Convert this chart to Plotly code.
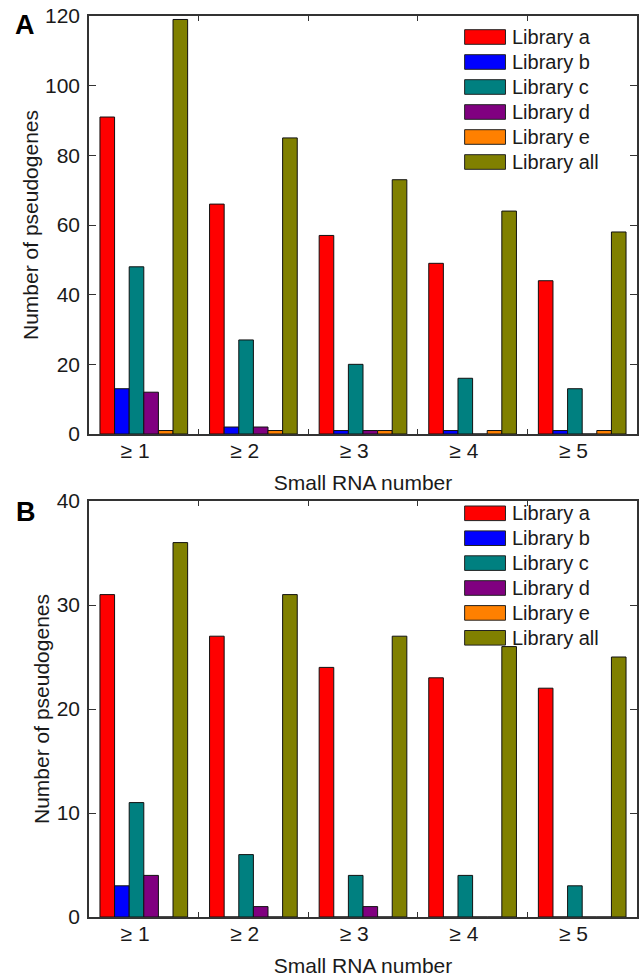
import plotly.graph_objects as go

categories = ["≥ 1", "≥ 2", "≥ 3", "≥ 4", "≥ 5"]
tick_labels = ["≥ 1", "≥ 2", "≥ 3", "≥ 4", "≥ 5"]
series_names = ["Library a", "Library b", "Library c", "Library d", "Library e", "Library all"]
colors = ["#FF0000", "#0000FF", "#008080", "#800080", "#FF8000", "#808000"]

# Panel A values
a_lib_a = [91, 66, 57, 49, 44]
a_lib_b = [13, 2, 1, 1, 1]
a_lib_c = [48, 27, 20, 16, 13]
a_lib_d = [12, 2, 1, 0, 0]
a_lib_e = [1, 1, 1, 1, 1]
a_lib_all = [119, 85, 73, 64, 58]

# Panel B values
b_lib_a = [31, 27, 24, 23, 22]
b_lib_b = [3, 0, 0, 0, 0]
b_lib_c = [11, 6, 4, 4, 3]
b_lib_d = [4, 1, 1, 0, 0]
b_lib_e = [0, 0, 0, 0, 0]
b_lib_all = [36, 31, 27, 26, 25]

panel_a = [a_lib_a, a_lib_b, a_lib_c, a_lib_d, a_lib_e, a_lib_all]
panel_b = [b_lib_a, b_lib_b, b_lib_c, b_lib_d, b_lib_e, b_lib_all]

W, H = 641, 979
ml, mr, mt, mb = 89, 2, 16, 62
ph = H - mt - mb
pw = W - ml - mr
def py(y):
    return (H - mb - y) / ph
def px(x):
    return (x - ml) / pw

domA = [py(434), 1.0]
domB = [0.0, py(501)]

FONT = "Liberation Sans, Arial, sans-serif"
TXT = "#1a1a1a"
LINE = "#333333"

fig = go.Figure()
for vals, name, col in zip(panel_a, series_names, colors):
    fig.add_trace(go.Bar(x=categories, y=vals, name=name, marker_color=col,
                         marker_line=dict(color="#111111", width=1),
                         xaxis="x", yaxis="y", showlegend=False))
for vals, name, col in zip(panel_b, series_names, colors):
    fig.add_trace(go.Bar(x=categories, y=vals, name=name, marker_color=col,
                         marker_line=dict(color="#111111", width=1),
                         xaxis="x2", yaxis="y2", showlegend=False))

nb = "\u00a0\u00a0\u00a0"
xcommon = dict(type="category", showline=True, linecolor=LINE, linewidth=1.5,
               mirror="ticks", ticks="inside", tickson="boundaries", ticklen=5,
               tickcolor=LINE, tickwidth=1, tickvals=categories,
               ticktext=[t + nb for t in tick_labels], ticklabelstandoff=-3,
               tickfont=dict(family=FONT, size=21, color=TXT),
               showgrid=False, zeroline=False,
               title=dict(text="Small RNA number", font=dict(family=FONT, size=21, color=TXT), standoff=14))
ycommon = dict(showline=True, linecolor=LINE, linewidth=1.5, mirror="ticks",
               ticks="inside", ticklen=7, tickcolor=LINE, tickwidth=1,
               tickfont=dict(family=FONT, size=21, color=TXT), ticklabelstandoff=3,
               showgrid=False, zeroline=False,
               title=dict(text="Number of pseudogenes", font=dict(family=FONT, size=21, color=TXT), standoff=1))

fig.update_layout(
    width=W, height=H,
    margin=dict(l=ml, r=mr, t=mt, b=mb),
    plot_bgcolor="white", paper_bgcolor="white",
    barmode="group", bargap=0.2, bargroupgap=0.0,
    xaxis=dict(domain=[0, 1], anchor="y", **xcommon),
    yaxis=dict(domain=domA, anchor="x", range=[0, 120], tickvals=[0, 20, 40, 60, 80, 100, 120], **ycommon),
    xaxis2=dict(domain=[0, 1], anchor="y2", **xcommon),
    yaxis2=dict(domain=domB, anchor="x2", range=[0, 40], tickvals=[0, 10, 20, 30, 40], **ycommon),
)

fig.add_annotation(text="<b>A</b>", x=px(25), y=py(25), xref="paper", yref="paper",
                   showarrow=False, font=dict(family=FONT, size=27, color="#000"),
                   xanchor="center", yanchor="middle")
fig.add_annotation(text="<b>B</b>", x=px(26), y=py(512), xref="paper", yref="paper",
                   showarrow=False, font=dict(family=FONT, size=27, color="#000"),
                   xanchor="center", yanchor="middle")

def draw_legend(first_row_y, step):
    for i, (name, col) in enumerate(zip(series_names, colors)):
        yc = first_row_y + i * step
        fig.add_shape(type="rect", xref="paper", yref="paper",
                      x0=px(466), x1=px(507), y0=py(yc + 7.3), y1=py(yc - 7.3),
                      fillcolor=col, line=dict(color="#222222", width=1))
        fig.add_annotation(text=name, x=px(512), y=py(yc), xref="paper", yref="paper",
                           showarrow=False, xanchor="left", yanchor="middle",
                           font=dict(family=FONT, size=20, color=TXT))

draw_legend(37, 25)
draw_legend(513.3, 24.9)

fig.write_html("out.html", config={"displayModeBar": False},
               post_script="document.body.style.margin='0px';document.body.style.overflow='hidden';")
